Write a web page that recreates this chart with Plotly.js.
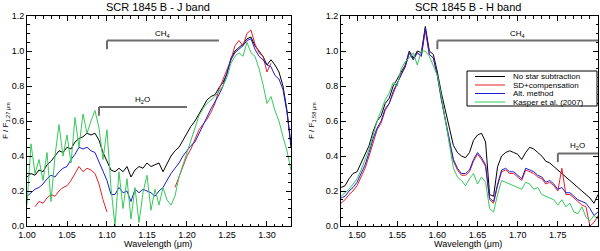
<!DOCTYPE html>
<html><head><meta charset="utf-8">
<script src="https://cdn.plot.ly/plotly-3.0.1.min.js"></script>
<style>html,body{margin:0;padding:0;background:#fff}#chart{width:600px;height:251px}</style>
</head><body><div id="chart"></div>
<script>
// ---------- J band ----------
const jWave = [1.000,1.005,1.010,1.015,1.020,1.025,1.030,1.035,1.040,1.045,1.050,1.055,1.060,1.065,1.070,1.075,1.080,1.085,1.090,1.095,
1.100,1.105,1.110,1.115,1.120,1.125,1.130,1.135,1.140,1.145,1.150,1.155,1.160,1.165,1.170,1.175,1.180,1.185,1.190,1.195,
1.200,1.205,1.210,1.215,1.220,1.225,1.230,1.235,1.240,1.245,1.250,1.255,1.260,1.265,1.270,1.275,1.280,1.285,1.290,1.295,
1.300,1.305,1.310,1.315,1.320,1.325,1.330];
const jNoSub = [0.28,0.30,0.29,0.32,0.31,0.35,0.37,0.40,0.43,0.42,0.45,0.44,0.48,0.50,0.51,0.53,0.52,0.53,0.49,0.42,
0.37,0.32,0.31,0.33,0.31,0.34,0.28,0.32,0.34,0.33,0.36,0.34,0.35,0.36,0.31,0.36,0.40,0.43,0.45,0.49,
0.53,0.57,0.60,0.64,0.68,0.72,0.74,0.75,0.79,0.82,0.87,0.96,1.00,1.02,1.04,1.07,1.08,1.03,1.00,0.97,
0.92,0.95,0.92,0.88,0.80,0.66,0.45];
const jSD = [null,null,0.11,0.14,0.13,0.16,0.18,0.17,0.20,0.22,0.23,0.26,0.30,0.34,0.31,0.33,0.32,0.30,0.24,0.15,
0.08,null,null,null,null,null,null,null,null,null,null,null,null,null,null,null,null,0.22,0.28,0.35,
0.40,0.44,0.49,0.55,0.58,0.61,0.65,0.70,0.78,0.84,0.90,0.95,1.03,1.06,1.03,1.10,1.12,1.04,0.99,0.97,
0.88,0.93,null,null,null,null,null];
const jAlt = [0.17,0.19,0.21,0.22,0.24,0.27,0.29,0.28,0.31,0.33,0.34,0.38,0.41,0.45,0.44,0.45,0.43,0.42,0.37,0.31,
0.26,0.18,0.18,0.22,0.19,0.20,0.14,0.21,0.19,0.21,0.20,0.19,0.17,0.20,0.22,0.26,0.30,0.33,0.36,0.40,
0.43,0.46,0.48,0.53,0.57,0.62,0.67,0.71,0.75,0.80,0.87,0.95,0.99,1.01,1.03,1.06,1.07,1.01,0.97,0.95,
0.92,0.91,0.86,0.84,0.78,0.65,0.47];
const jKasper = [0.12,0.47,0.30,0.38,0.26,0.42,0.14,0.40,0.58,0.40,0.52,0.36,0.62,0.45,0.64,0.53,0.60,0.66,0.56,0.38,
0.55,0.22,0.00,0.31,0.10,0.27,0.04,0.22,0.02,0.19,0.29,0.09,0.21,0.12,0.22,0.15,0.12,0.17,0.28,0.35,
0.42,0.50,0.57,0.63,0.67,0.70,0.72,0.74,0.77,0.80,0.85,0.93,0.97,0.99,0.97,1.05,0.99,0.97,0.90,0.81,
0.70,0.74,0.66,0.60,0.51,0.43,0.32];

// ---------- H band ----------
const hWave = [1.480,1.485,1.490,1.495,1.500,1.505,1.510,1.515,1.520,1.525,1.530,1.535,1.540,1.545,1.550,1.555,1.560,1.565,1.570,1.575,
1.580,1.585,1.590,1.595,1.600,1.605,1.610,1.615,1.620,1.625,1.630,1.635,1.640,1.645,1.650,1.655,1.660,1.665,1.670,1.675,
1.680,1.685,1.690,1.695,1.700,1.705,1.710,1.715,1.720,1.725,1.730,1.735,1.740,1.745,1.750,1.755,1.760,1.765,1.770,1.775,
1.780,1.785,1.790,1.795,1.800];
const hNoSub = [0.22,0.23,0.27,0.30,0.31,0.36,0.40,0.46,0.54,0.60,0.63,0.70,0.73,0.80,0.84,0.88,0.92,1.00,0.96,1.00,
0.99,1.14,1.00,0.98,0.88,0.76,0.66,0.55,0.46,0.42,0.40,0.39,0.42,0.49,0.52,0.53,0.48,0.18,0.17,0.34,
0.40,0.42,0.43,0.42,0.41,0.38,0.42,0.45,0.44,0.42,0.40,0.37,0.36,0.34,0.32,0.30,0.28,0.26,0.24,0.22,
0.20,0.18,0.16,0.13,0.18];
const hSD = [0.13,0.15,0.18,0.20,0.23,0.28,0.33,0.40,0.48,0.55,0.59,0.66,0.70,0.76,0.82,0.87,0.91,0.99,0.95,0.99,
0.97,1.12,0.98,0.96,0.86,0.72,0.60,0.48,0.37,0.32,0.29,0.29,0.31,0.37,0.41,0.38,0.34,0.15,0.13,0.23,
0.31,0.32,0.30,0.30,0.28,0.26,0.32,0.31,0.30,0.28,0.27,0.24,0.25,0.23,0.20,0.33,0.18,0.18,0.16,0.14,
0.12,0.11,0.00,0.02,0.06];
const hAlt = [0.16,0.17,0.20,0.22,0.25,0.30,0.35,0.42,0.50,0.56,0.60,0.67,0.70,0.77,0.82,0.87,0.91,0.99,0.95,0.99,
0.97,1.13,0.98,0.96,0.86,0.72,0.60,0.48,0.38,0.33,0.30,0.30,0.32,0.38,0.42,0.39,0.35,0.16,0.14,0.24,
0.32,0.33,0.31,0.31,0.29,0.27,0.33,0.32,0.31,0.29,0.28,0.25,0.26,0.24,0.21,0.22,0.19,0.19,0.17,0.15,
0.14,0.13,0.10,0.06,0.08];
const hKasper = [0.17,0.19,0.21,0.24,0.27,0.32,0.38,0.44,0.52,0.60,0.66,0.72,0.76,0.82,0.80,0.90,0.94,0.96,0.99,0.92,
1.00,1.00,0.97,0.92,0.86,0.74,0.60,0.45,0.33,0.28,0.26,0.23,0.27,0.30,0.24,0.28,0.25,0.10,0.08,0.18,
0.26,0.25,0.24,0.23,0.22,0.21,0.25,0.24,0.21,0.22,0.18,0.17,0.16,0.15,0.12,0.15,0.11,0.13,0.08,0.07,
0.11,0.05,0.03,0.06,0.04];

const seriesNames = ['No star subtraction','SD+compensation','Alt. method','Kasper et al. (2007)'];
const seriesColors = ['#000000','#e8202a','#1c1cd0','#36c95a'];
const jSeries = [jNoSub, jSD, jAlt, jKasper];
const hSeries = [hNoSub, hSD, hAlt, hKasper];

const FONT = 'Liberation Sans, Arial, Helvetica, sans-serif';
const traces = [];
jSeries.forEach((ys,i)=>traces.push({x:jWave,y:ys,type:'scatter',mode:'lines',name:seriesNames[i],
  line:{color:seriesColors[i],width:1},xaxis:'x',yaxis:'y',showlegend:false,connectgaps:false}));
hSeries.forEach((ys,i)=>traces.push({x:hWave,y:ys,type:'scatter',mode:'lines',name:seriesNames[i],
  line:{color:seriesColors[i],width:1},xaxis:'x2',yaxis:'y2',showlegend:false}));

function xax(domain, range, anchor){
  return {domain:domain, range:range, anchor:anchor, dtick:0.05, tick0:1.0, tickformat:'.2f',
    ticks:'inside', ticklen:5, tickcolor:'#000', tickwidth:1, showline:true, linecolor:'#000', linewidth:1,
    mirror:'ticks', showgrid:false, zeroline:false, tickfont:{size:9,color:'#000',family:FONT},
    minor:{dtick:0.01, ticks:'inside', ticklen:2.5, tickcolor:'#000', showgrid:false}};
}
function yax(range, anchor){
  return {range:range, anchor:anchor, dtick:0.2, tick0:0, tickformat:'.1f',
    ticks:'inside', ticklen:5, tickcolor:'#000', tickwidth:1, showline:true, linecolor:'#000', linewidth:1,
    mirror:'ticks', showgrid:false, zeroline:false, tickfont:{size:9,color:'#000',family:FONT},
    minor:{dtick:0.05, ticks:'inside', ticklen:2.5, tickcolor:'#000', showgrid:false}};
}

// pixel helpers for paper-referenced decorations (plot area: x 27..598, y 16..226)
const px = v => (v - 27) / 571;
const py = v => (226 - v) / 210;

const gray = '#6e6e6e';
const shapes = [
  {type:'line',xref:'x',yref:'y',x0:1.10,x1:1.24,y0:1.06,y1:1.06,line:{color:gray,width:2}},
  {type:'line',xref:'x',yref:'y',x0:1.10,x1:1.10,y0:1.06,y1:1.01,line:{color:gray,width:2}},
  {type:'line',xref:'x',yref:'y',x0:1.09,x1:1.20,y0:0.68,y1:0.68,line:{color:gray,width:2}},
  {type:'line',xref:'x',yref:'y',x0:1.09,x1:1.09,y0:0.68,y1:0.63,line:{color:gray,width:2}},
  {type:'line',xref:'x2',yref:'y2',x0:1.60,x1:1.80,y0:1.06,y1:1.06,line:{color:gray,width:2}},
  {type:'line',xref:'x2',yref:'y2',x0:1.60,x1:1.60,y0:1.06,y1:1.01,line:{color:gray,width:2}},
  {type:'line',xref:'x2',yref:'y2',x0:1.75,x1:1.80,y0:0.415,y1:0.415,line:{color:gray,width:2}},
  {type:'line',xref:'x2',yref:'y2',x0:1.75,x1:1.75,y0:0.415,y1:0.365,line:{color:gray,width:2}},
  {type:'rect',xref:'paper',yref:'paper',x0:px(467),x1:px(597),y0:py(106),y1:py(71),fillcolor:'#fff',line:{color:'#000',width:1},layer:'above'}
];
const annotations = [
  {text:'SCR 1845 B - J band',xref:'paper',yref:'paper',x:px(158),y:py(7),xanchor:'center',yanchor:'middle',showarrow:false,font:{size:11,family:FONT,color:'#000'}},
  {text:'SCR 1845 B - H band',xref:'paper',yref:'paper',x:px(468),y:py(7),xanchor:'center',yanchor:'middle',showarrow:false,font:{size:11,family:FONT,color:'#000'}},
  {text:'Wavelength (μm)',xref:'paper',yref:'paper',x:px(158),y:py(244),xanchor:'center',yanchor:'middle',showarrow:false,font:{size:9,family:FONT,color:'#000'}},
  {text:'Wavelength (μm)',xref:'paper',yref:'paper',x:px(468),y:py(244),xanchor:'center',yanchor:'middle',showarrow:false,font:{size:9,family:FONT,color:'#000'}},
  {text:'F / F<sub>1.27 μm</sub>',xref:'paper',yref:'paper',x:px(6),y:py(121),xanchor:'center',yanchor:'middle',textangle:-90,showarrow:false,font:{size:8,family:FONT,color:'#000'}},
  {text:'F / F<sub>1.58 μm</sub>',xref:'paper',yref:'paper',x:px(312),y:py(121),xanchor:'center',yanchor:'middle',textangle:-90,showarrow:false,font:{size:8,family:FONT,color:'#000'}},
  {text:'CH<sub>4</sub>',xref:'x',yref:'y',x:1.17,y:1.10,showarrow:false,font:{size:8,family:FONT,color:'#000'}},
  {text:'H<sub>2</sub>O',xref:'x',yref:'y',x:1.145,y:0.72,showarrow:false,font:{size:8,family:FONT,color:'#000'}},
  {text:'CH<sub>4</sub>',xref:'x2',yref:'y2',x:1.70,y:1.10,showarrow:false,font:{size:8,family:FONT,color:'#000'}},
  {text:'H<sub>2</sub>O',xref:'x2',yref:'y2',x:1.775,y:0.455,showarrow:false,font:{size:8,family:FONT,color:'#000'}}
];
// compact legend
const legRowsPx = [76.5, 85.0, 93.5, 102.0];
seriesNames.forEach((nm,i)=>{
  const yy = py(legRowsPx[i]);
  shapes.push({type:'line',xref:'paper',yref:'paper',x0:px(475),x1:px(505),y0:yy,y1:yy,line:{color:seriesColors[i],width:1},layer:'above'});
  annotations.push({text:nm,xref:'paper',yref:'paper',x:px(512),y:yy,xanchor:'left',yanchor:'middle',borderpad:0,showarrow:false,font:{size:8,family:FONT,color:'#000'}});
});

const layout = {
  width:600, height:251, margin:{l:27,r:2,t:16,b:25},
  paper_bgcolor:'#fff', plot_bgcolor:'#fff', showlegend:false,
  font:{family:FONT,color:'#000'},
  xaxis: xax([0,0.4623],[1.0,1.33],'y'),
  yaxis: yax([0,1.2],'x'),
  xaxis2: xax([0.5499,1],[1.48,1.80],'y2'),
  yaxis2: yax([0,1.2],'x2'),
  shapes:shapes, annotations:annotations
};
Plotly.newPlot('chart', traces, layout, {staticPlot:true, displayModeBar:false});
</script>
</body></html>
